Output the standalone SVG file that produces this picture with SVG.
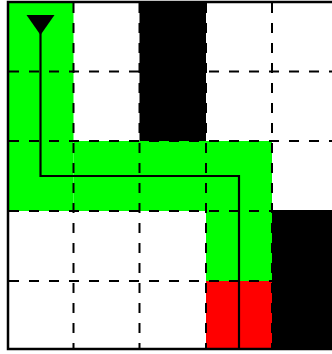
<svg xmlns="http://www.w3.org/2000/svg" width="332" height="354" viewBox="0 0 332 354">
<style>
.g{fill:#00ff00}
.r{fill:#ff0000}
.b{fill:#000000}
.d{stroke:#000;stroke-width:2;stroke-dasharray:10 10;fill:none}
.p{stroke:#000;stroke-width:2.2;fill:none}
</style>
<rect x="0" y="0" width="332" height="354" fill="#ffffff"/>
<g id="cells">
<rect class="g" x="8" y="2" width="65.5" height="209"/>
<rect class="g" x="73.5" y="141" width="198.5" height="70"/>
<rect class="g" x="206" y="211" width="66" height="70"/>
<rect class="r" x="206" y="281" width="66" height="68"/>
</g>
<g id="grid">
<line class="d" x1="73.5" y1="3" x2="73.5" y2="348"/>
<line class="d" x1="139.5" y1="3" x2="139.5" y2="348"/>
<line class="d" x1="206" y1="3" x2="206" y2="348"/>
<line class="d" x1="272" y1="3" x2="272" y2="348"/>
<line class="d" x1="9" y1="71.5" x2="332" y2="71.5"/>
<line class="d" x1="9" y1="141" x2="332" y2="141"/>
<line class="d" x1="9" y1="211" x2="332" y2="211"/>
<line class="d" x1="9" y1="281" x2="332" y2="281"/>
</g>
<g id="blocks">
<rect class="b" x="139.5" y="2" width="66.5" height="139"/>
<rect class="b" x="272" y="210" width="66" height="139"/>
</g>
<g id="border">
<rect x="8" y="2" width="330" height="347" fill="none" stroke="#000" stroke-width="2.5"/>
</g>
<g id="connectors">
<path class="p" d="M40.5 20 V176 H239 V349"/>
<polygon points="26.5,15 54.5,15 40.5,35" fill="#000"/>
</g>
</svg>
